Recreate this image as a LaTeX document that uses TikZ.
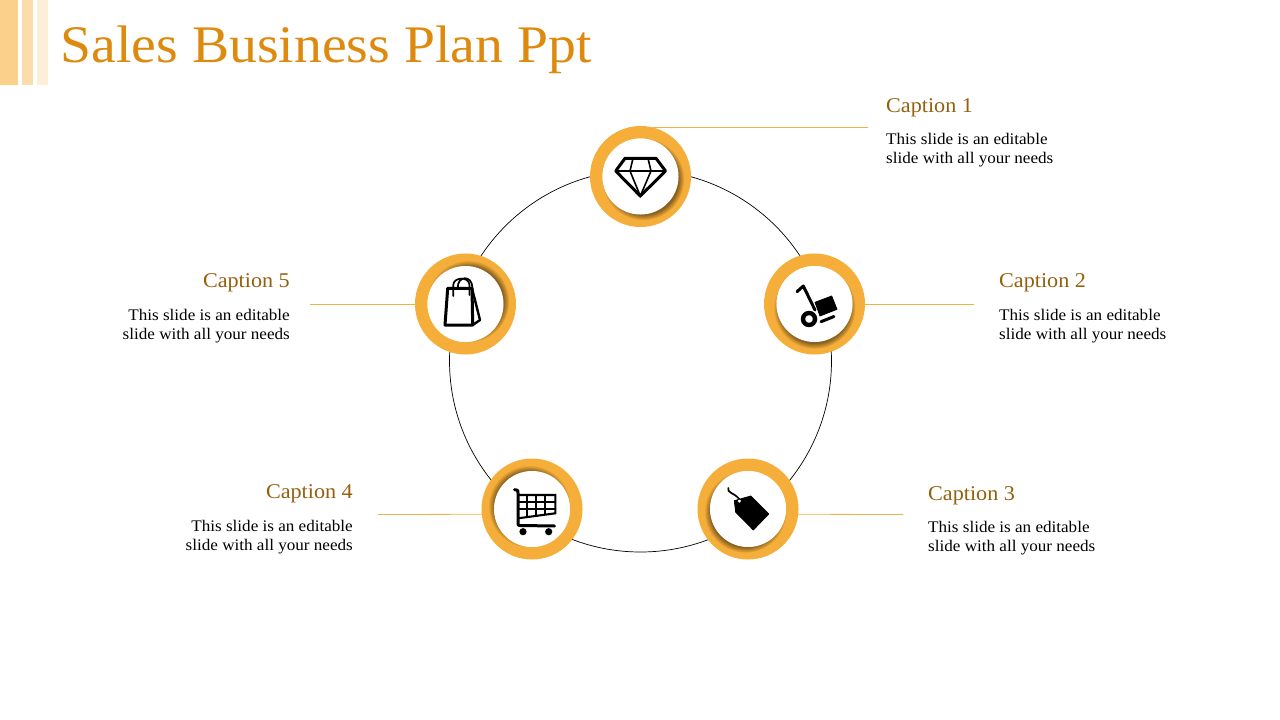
\documentclass[tikz,border=0pt]{standalone}
\usepackage{fontspec}
\setmainfont[FakeStretch=1.055]{Liberation Serif}
\usepackage{xcolor}
\usepackage{tikz}
\usetikzlibrary{shadows}
\definecolor{ringcol}{RGB}{246,174,58}
\definecolor{titlecol}{RGB}{221,138,14}
\definecolor{capcol}{RGB}{148,96,14}
\definecolor{leadcol}{RGB}{240,178,70}
\definecolor{barone}{RGB}{250,208,138}
\definecolor{bartwo}{RGB}{251,221,172}
\definecolor{barthree}{RGB}{253,238,218}

\begin{document}
\begin{tikzpicture}[
  x=1pt, y=-1pt,
  orbit/.style={circle, draw=black, line width=0.7pt, minimum size=382pt, inner sep=0pt},
  ringnode/.style={circle, draw=ringcol, fill=white, line width=12.5pt, minimum size=88.5pt, inner sep=0pt},
  discnode/.style 2 args={circle, fill=white, minimum size=76pt, inner sep=0pt,
    circular drop shadow={shadow xshift=#1pt, shadow yshift=#2pt, shadow scale=1.08,
      fill=black!70!capcol, opacity=0.55}},
  leader/.style={draw=leadcol, line width=0.8pt},
  caphead/.style={font=\fontsize{21}{25}\selectfont, text=capcol, inner sep=0pt},
  capbody/.style={font=\fontsize{16.2}{19}\selectfont, inner sep=0pt},
  iconline/.style={draw=black, line width=3pt, line join=round, line cap=round},
  iconthin/.style={draw=black, line width=1.6pt},
  iconfill/.style={fill=black, draw=black, line width=0.8pt, line join=round}
]
  \useasboundingbox (0,0) rectangle (1280,720);

  % title strip
  \fill[barone] (0,0) rectangle (18,85);
  \fill[bartwo] (22,0) rectangle (33,85);
  \fill[barthree] (37,0) rectangle (48,85);
  \node[font=\fontsize{52.8}{60}\selectfont, text=titlecol, anchor=base west, inner sep=0pt]
    (title) at (60.5,62) {Sales Business Plan Ppt};

  \node[orbit] (orbit) at (640.5,361) {};

  \node[ringnode] (ring1) at (640.5,176.5) {};
  \node[ringnode] (ring2) at (814.5,304) {};
  \node[ringnode] (ring3) at (748,509) {};
  \node[ringnode] (ring4) at (532,509) {};
  \node[ringnode] (ring5) at (465.5,304) {};

  \node[discnode={2.5}{-2.5}] (disc1) at (ring1) {};
  \node[discnode={0}{-3.5}] (disc2) at (ring2) {};
  \node[discnode={-2.5}{-2.5}] (disc3) at (ring3) {};
  \node[discnode={-2.5}{2.5}] (disc4) at (ring4) {};
  \node[discnode={2.5}{2.5}] (disc5) at (ring5) {};

  % leader lines
  \coordinate (tip1) at (868,127.5);
  \coordinate (tip2) at (974,304);
  \coordinate (tip3) at (903,514.5);
  \coordinate (tip4) at (378,514.5);
  \coordinate (tip5) at (310,304);
  \draw[leader] (ring1.76) -- (tip1);
  \draw[leader] (ring2.east) -- (tip2);
  \draw[leader] (ring3.-6) -- (tip3);
  \draw[leader] (ring4.-174) -- (tip4);
  \draw[leader] (ring5.west) -- (tip5);

  % captions
  \node[caphead, anchor=base west] (head1) at (886,112) {Caption 1};
  \node[capbody, anchor=north west, align=left] (body1) at (886,133.3) {This slide is an editable\\slide with all your needs};
  \node[caphead, anchor=base west] (head2) at (999,287) {Caption 2};
  \node[capbody, anchor=north west, align=left] (body2) at (999,309.3) {This slide is an editable\\slide with all your needs};
  \node[caphead, anchor=base west] (head3) at (928,500) {Caption 3};
  \node[capbody, anchor=north west, align=left] (body3) at (928,521.3) {This slide is an editable\\slide with all your needs};
  \node[caphead, anchor=base east] (head4) at (353,498) {Caption 4};
  \node[capbody, anchor=north east, align=right] (body4) at (353,520.3) {This slide is an editable\\slide with all your needs};
  \node[caphead, anchor=base east] (head5) at (290,287) {Caption 5};
  \node[capbody, anchor=north east, align=right] (body5) at (290,309.3) {This slide is an editable\\slide with all your needs};

  % diamond
  \draw[iconline] (625,158.3) -- (656,158.3) -- (665.5,171) -- (640.3,196) -- (615.7,171) -- cycle;
  \draw[iconthin] (616,171) -- (665,171);
  \draw[iconthin] (633,158.3) -- (630,171) -- (640.3,196) -- (651,171) -- (648,158.3);

  % hand truck
  \draw[iconline] (797,291.7) -- (803.3,286) -- (815,310);
  \draw[black, line width=4.4pt] (809,319) circle (6pt);
  \fill[iconfill] (815,302.3) -- (831.7,296) -- (837,309.3) -- (820,316) -- cycle;
  \draw[iconline] (821,321.7) -- (834,316.5);

  % price tag
  \fill[iconfill] (734.3,500.7) -- (750.7,496) -- (768.7,514) -- (753.3,530) -- (735.7,512.3) -- cycle;
  \fill[white] (739.3,501) circle (1.8pt);
  \draw[black, line width=1.7pt, line cap=round] (728.3,488) .. controls (727,493) and (733,492) .. (739.3,499);

  % cart
  \draw[black, line width=2.1pt] (518,495) -- (555.3,495) -- (555.3,513.3) -- (518,518.3);
  \draw[black, line width=2.1pt] (527.3,495) -- (527.3,517) (536.3,495) -- (536.3,515.5) (545,495) -- (545,514.3);
  \draw[black, line width=2.1pt] (518,502.3) -- (555.3,502.3) (518,509.3) -- (555.3,509.3);
  \draw[iconline] (514.5,489.7) -- (516.5,490) .. controls (518,490.5) .. (518,493) -- (518,523) .. controls (518,525.5) .. (520.5,525.5) -- (554.5,526);
  \fill[black] (523,531.7) circle (3.6pt) (548.7,531.7) circle (3.6pt);

  % shopping bag
  \draw[iconline] (447.7,288.3) -- (472,288.3) -- (472.7,325) -- (445,325) -- cycle;
  \draw[iconline, line width=2.4pt] (472,288.3) -- (480,320) -- (472.7,325);
  \draw[black, line width=1.7pt, line cap=round] (453.3,296) -- (453.3,285) .. controls (453.3,277) and (469,276) .. (469.5,285) -- (469.5,295);
  \draw[black, line width=1.7pt, line cap=round] (457.8,288) .. controls (457,276) and (472,274) .. (472.5,288);
\end{tikzpicture}
\end{document}
